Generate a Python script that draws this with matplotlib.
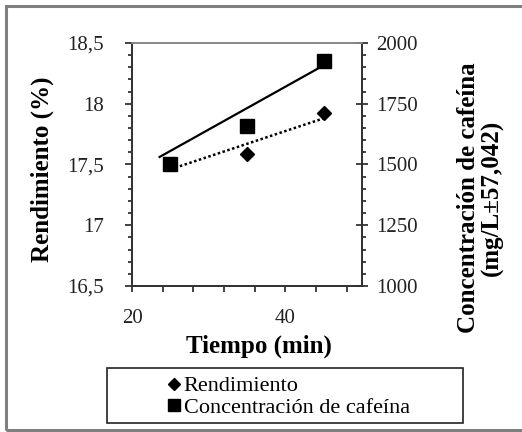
import numpy as np
import matplotlib
matplotlib.use("Agg")
import matplotlib.pyplot as plt
from matplotlib.ticker import MultipleLocator, FuncFormatter
from matplotlib.lines import Line2D
from matplotlib.patches import Rectangle

plt.rcParams['font.family'] = ['Liberation Serif', 'DejaVu Serif']

# extraction data
tiempo = [25, 35, 45]                 # min
rendimiento = [17.5, 17.59, 17.92]    # %
cafeina = [1500, 1658, 1925]          # mg/L
# line drawn over the caffeine points
linea_t = [23.6, 45]
linea_caf = [1531, 1908]

fig = plt.figure(figsize=(5.22, 4.32), dpi=100)
ax = fig.add_axes([0.2529, 0.338, 0.4406, 0.5625])
ax2 = ax.twinx()

# yield: diamonds + dotted linear trend
coef = np.polyfit(tiempo, rendimiento, 1)
tt = np.array([tiempo[0], tiempo[-1]])
ax.plot(tt, np.polyval(coef, tt), color='black', ls=(0, (1, 1)), lw=1.8, zorder=2)
ax.plot(tiempo, rendimiento, 'D', color='black', ms=7.5, zorder=3)

# caffeine: squares + solid line
ax2.plot(linea_t, linea_caf, color='black', lw=1.6, zorder=2)
ax2.plot(tiempo, cafeina, 's', color='black', ms=10.5, zorder=3)

ax.set_xlim(20, 50)
ax.set_ylim(16.5, 18.5)
ax2.set_ylim(1000, 2000)

ax.xaxis.set_major_locator(MultipleLocator(20))
ax.xaxis.set_minor_locator(MultipleLocator(4))
ax.yaxis.set_major_locator(MultipleLocator(0.5))
ax.yaxis.set_minor_locator(MultipleLocator(0.1))
ax2.yaxis.set_major_locator(MultipleLocator(250))
ax2.yaxis.set_minor_locator(MultipleLocator(50))

ax.yaxis.set_major_formatter(FuncFormatter(lambda v, p: ('%g' % v).replace('.', ',')))

ax.tick_params(axis='x', which='major', direction='out', length=4.5, width=1.2,
               labelsize=15, pad=12, colors='#222222')
ax.tick_params(axis='x', which='minor', direction='out', length=4.5, width=1.2, colors='#222222')
ax.tick_params(axis='y', which='major', direction='out', length=5, width=1.2,
               labelsize=15, pad=15, colors='#222222')
ax.tick_params(axis='y', which='minor', direction='out', length=3, width=1.2, colors='#222222')
ax2.tick_params(axis='y', which='major', direction='inout', length=9, width=1.2,
                labelsize=15, pad=6, colors='#222222')
ax2.tick_params(axis='y', which='minor', direction='out', length=3, width=1.2, colors='#222222')

for a in (ax, ax2):
    for s in ('left', 'right', 'bottom'):
        a.spines[s].set_color('#333333')
        a.spines[s].set_linewidth(1.3)
    a.spines['top'].set_color('#8a8a8a')
    a.spines['top'].set_linewidth(1.3)

ax.set_xlabel('Tiempo (min)', fontsize=18, fontweight='bold')
ax.xaxis.set_label_coords(0.55, -0.25)
ax.xaxis.label.set_va('center')
ax.set_ylabel('Rendimiento (%)', fontsize=18, fontweight='bold')
ax.yaxis.set_label_coords(-0.39, 0.48)
ax.yaxis.label.set_va('center')
ax2.set_ylabel('Concentración de cafeína\n(mg/L±57,042)', fontsize=18,
               fontweight='bold', rotation=90, linespacing=1.05)
ax2.yaxis.set_label_coords(1.515, 0.362)
ax2.yaxis.label.set_va('center')

# legend box
fig.patches.append(Rectangle((107 / 522, 1 - 423 / 432), 356 / 522, 55 / 432,
                             transform=fig.transFigure, facecolor='white',
                             edgecolor='#222222', lw=1.2, zorder=1))
handles = [Line2D([], [], ls='none', marker='D', color='black', ms=6),
           Line2D([], [], ls='none', marker='s', color='black', ms=9)]
leg = fig.legend(handles, ['Rendimiento', 'Concentración de cafeína'],
                 loc='center', bbox_to_anchor=(289 / 522, 1 - 397 / 432),
                 frameon=False, fontsize=16, handlelength=0.5, handletextpad=0.2,
                 labelspacing=0.05, borderpad=0)
leg.set_zorder(2)

# outer frame
fig.patches.append(Rectangle((6 / 522, 2 / 432), 520 / 522, 424 / 432,
                             transform=fig.transFigure, facecolor='none',
                             edgecolor='#7f7f7f', lw=2.2))

fig.savefig('out.png', dpi=100)
